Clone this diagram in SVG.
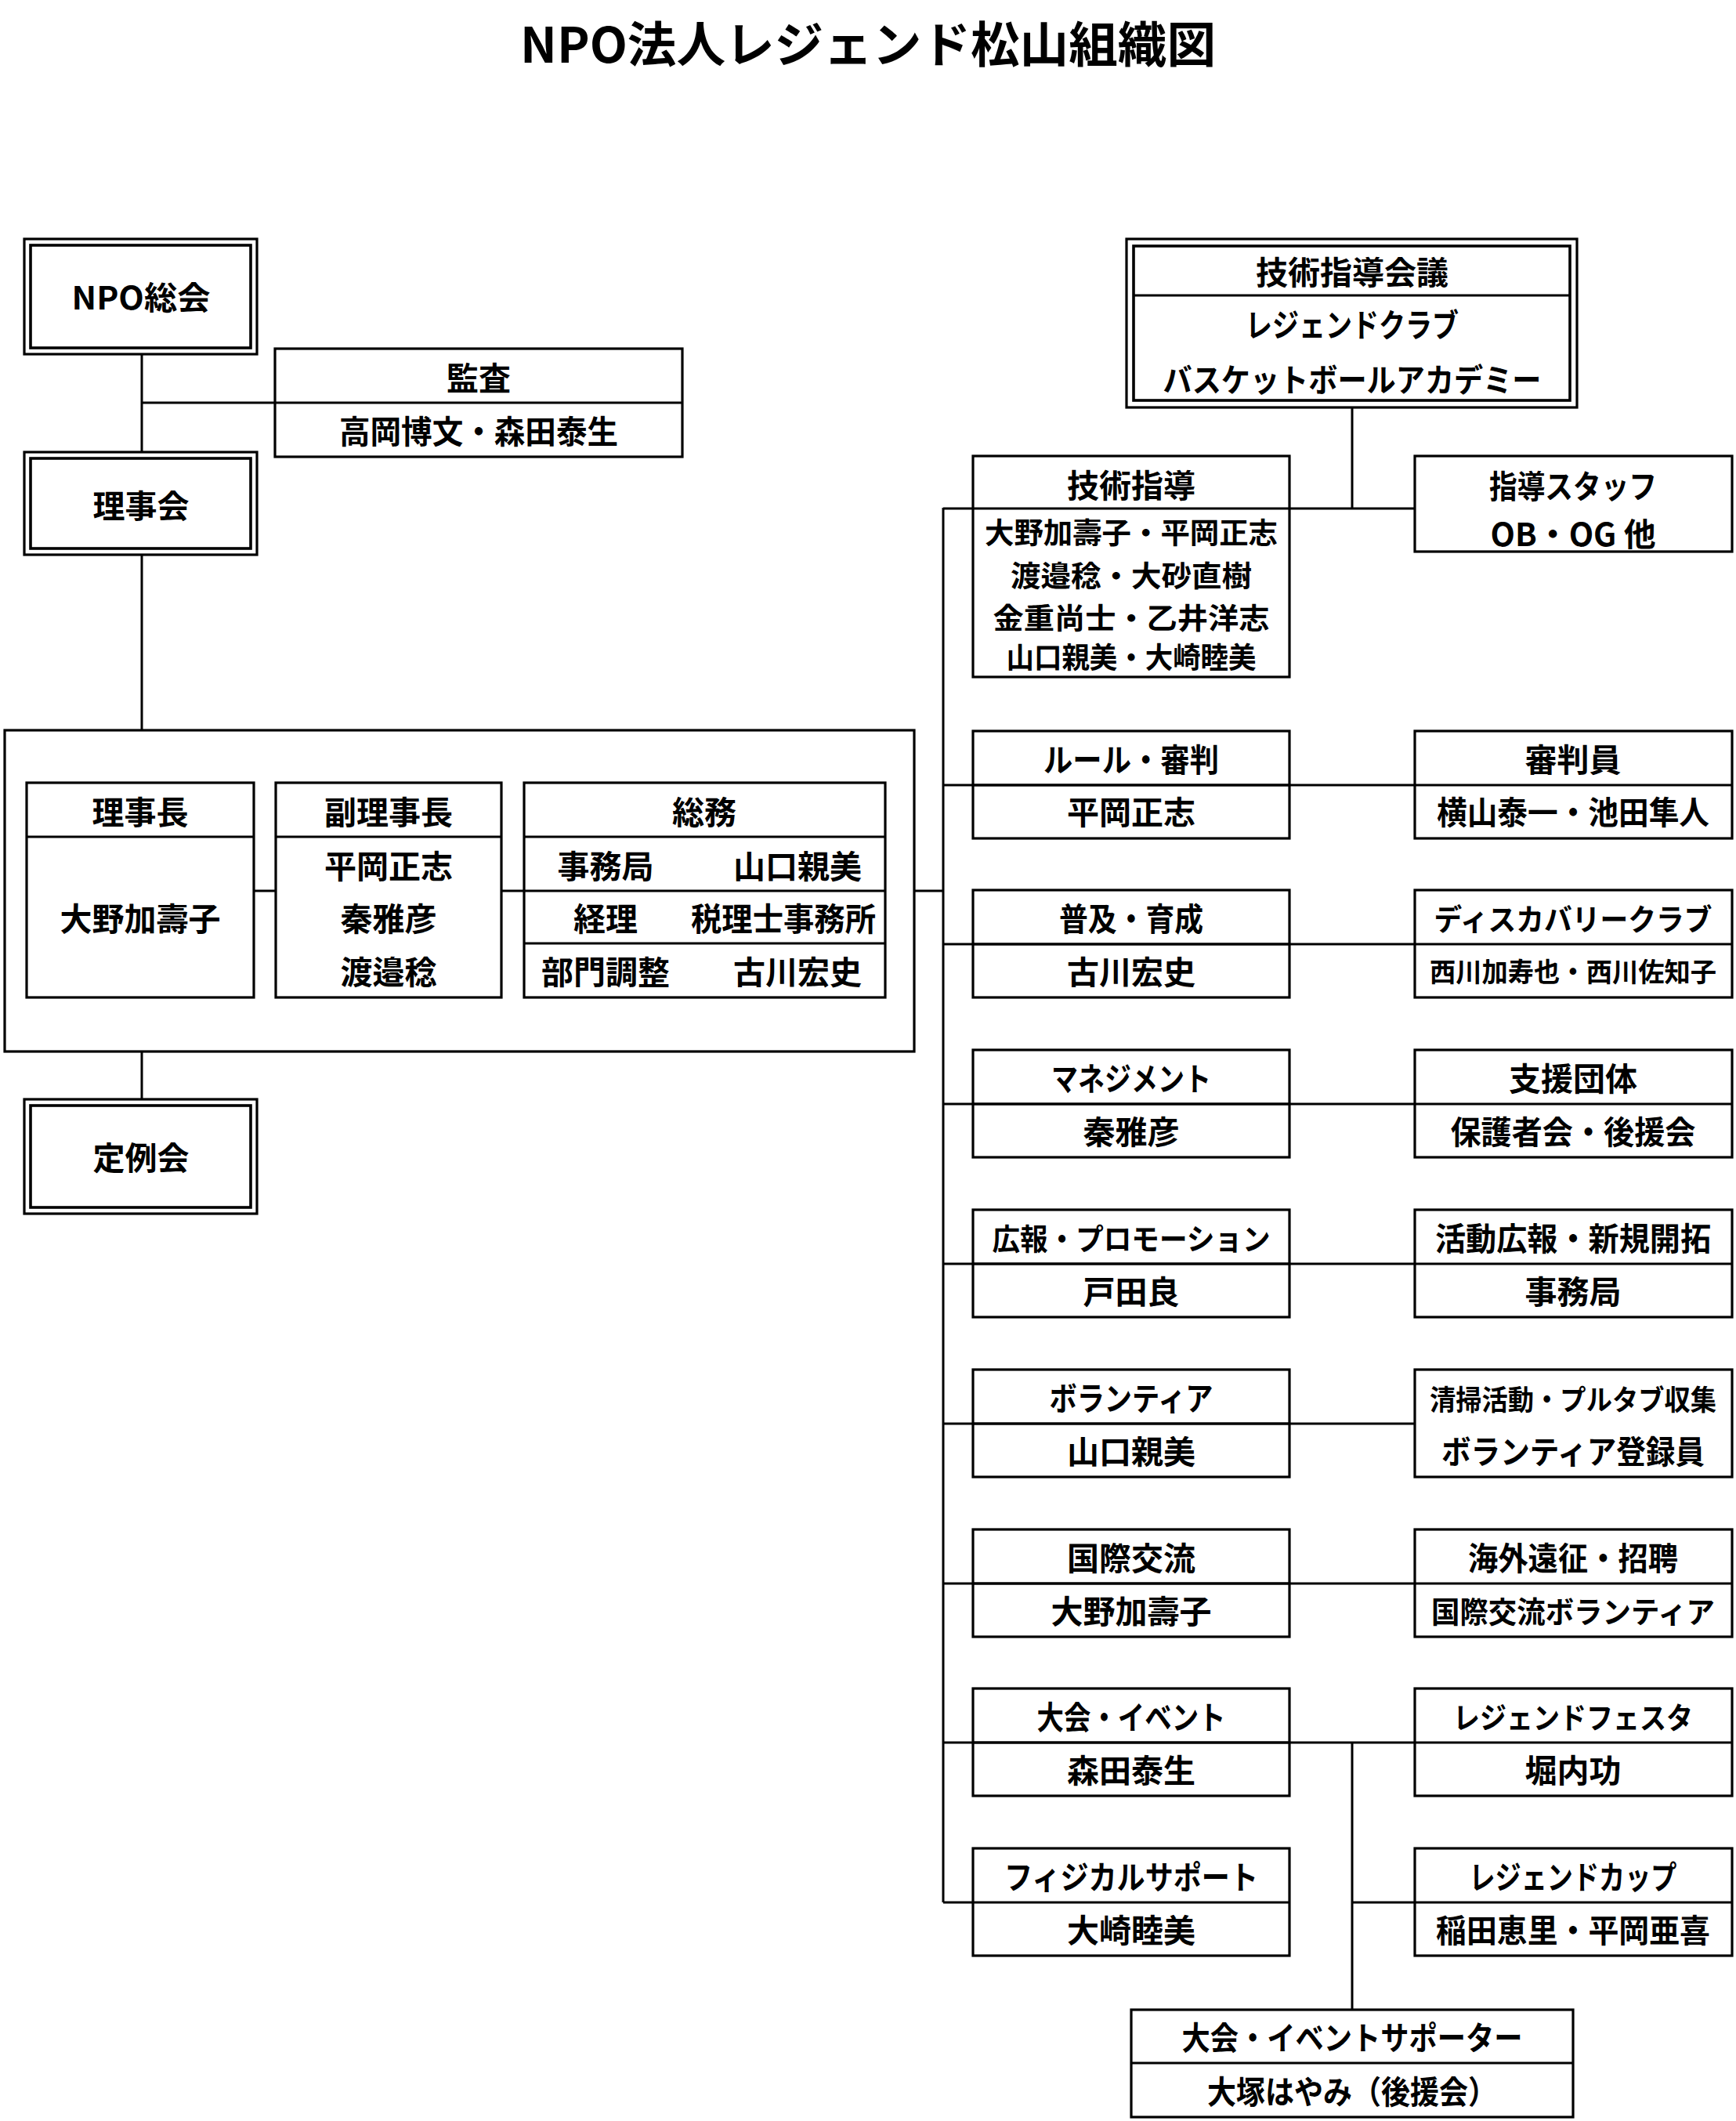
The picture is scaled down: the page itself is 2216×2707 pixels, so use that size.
<svg xmlns="http://www.w3.org/2000/svg" width="2216" height="2707" viewBox="0 0 2216 2707">
<style>
rect{fill:none;stroke:#000;stroke-width:3.2}
.in{stroke-width:3.6}
line,path{stroke:#000;stroke-width:3;fill:none}
text{font-family:"Noto Sans CJK JP","Noto Sans CJK SC",sans-serif;font-weight:bold;font-size:41px;fill:#000;text-anchor:middle;dominant-baseline:central}
.t{font-size:62px}
.s{font-size:34px}
.m{font-size:37px}
.n{font-size:38px}
.k{font-size:36px}
</style>
<rect x="0" y="0" width="2216" height="2707" fill="#fff" style="fill:#fff;stroke:none"/>
<text class="t" x="1108" y="53" textLength="888" lengthAdjust="spacingAndGlyphs">NPO法人レジェンド松山組織図</text>

<g id="connectors">
<line x1="181" y1="452" x2="181" y2="577"/>
<line x1="181" y1="514" x2="351" y2="514"/>
<line x1="181" y1="708" x2="181" y2="932"/>
<line x1="181" y1="1342" x2="181" y2="1403"/>
<line x1="324" y1="1137" x2="352" y2="1137"/>
<line x1="640" y1="1137" x2="669" y2="1137"/>
<line x1="1167" y1="1137" x2="1204" y2="1137"/>
<line x1="1726" y1="520" x2="1726" y2="649"/>
<line x1="1204" y1="649" x2="1806" y2="649"/>
<line x1="1204" y1="648" x2="1204" y2="2428"/>
<line x1="1204" y1="1002" x2="1806" y2="1002"/>
<line x1="1204" y1="1205" x2="1806" y2="1205"/>
<line x1="1204" y1="1409" x2="1806" y2="1409"/>
<line x1="1204" y1="1613" x2="1806" y2="1613"/>
<line x1="1204" y1="1817" x2="1806" y2="1817"/>
<line x1="1204" y1="2021" x2="1806" y2="2021"/>
<line x1="1204" y1="2224" x2="1806" y2="2224"/>
<line x1="1204" y1="2428" x2="1242" y2="2428"/>
<line x1="1726" y1="2224" x2="1726" y2="2565"/>
<line x1="1726" y1="2428" x2="1806" y2="2428"/>
</g>

<g id="npo-soukai">
<rect x="31" y="305" width="297" height="147"/>
<rect class="in" x="39" y="313" width="281" height="131"/>
<text x="180" y="377" textLength="177" lengthAdjust="spacingAndGlyphs">NPO総会</text>
</g>
<g id="kansa">
<rect x="351" y="445" width="520" height="138"/>
<line x1="351" y1="514" x2="871" y2="514"/>
<text x="611" y="480">監査</text>
<text x="611" y="548" textLength="356" lengthAdjust="spacingAndGlyphs">高岡博文・森田泰生</text>
</g>
<g id="rijikai">
<rect x="31" y="577" width="297" height="131"/>
<rect class="in" x="39" y="585" width="281" height="115"/>
<text x="180" y="643">理事会</text>
</g>
<g id="executive">
<rect x="6" y="932" width="1161" height="410"/>
</g>
<g id="rijicho">
<rect x="34" y="999" width="290" height="274"/>
<line x1="34" y1="1068" x2="324" y2="1068"/>
<text x="179" y="1034">理事長</text>
<text x="179" y="1170">大野加壽子</text>
</g>
<g id="fukurijicho">
<rect x="352" y="999" width="288" height="274"/>
<line x1="352" y1="1068" x2="640" y2="1068"/>
<text x="496" y="1034">副理事長</text>
<text x="496" y="1103">平岡正志</text>
<text x="496" y="1170">秦雅彦</text>
<text x="496" y="1238">渡邉稔</text>
</g>
<g id="soumu">
<rect x="669" y="999" width="461" height="274"/>
<line x1="669" y1="1068" x2="1130" y2="1068"/>
<line x1="669" y1="1137" x2="1130" y2="1137"/>
<line x1="669" y1="1204" x2="1130" y2="1204"/>
<text x="899" y="1034">総務</text>
<text x="773" y="1103">事務局</text>
<text x="1018" y="1103">山口親美</text>
<text x="773" y="1170">経理</text>
<text x="1000" y="1170" textLength="236" lengthAdjust="spacingAndGlyphs">税理士事務所</text>
<text x="773" y="1238">部門調整</text>
<text x="1018" y="1238">古川宏史</text>
</g>
<g id="teireikai">
<rect x="31" y="1403" width="297" height="146"/>
<rect class="in" x="39" y="1411" width="281" height="130"/>
<text x="180" y="1475">定例会</text>
</g>

<g id="gijutsu-kaigi">
<rect x="1438" y="305" width="575" height="215"/>
<rect class="in" x="1447" y="314" width="557" height="197"/>
<line x1="1447" y1="377" x2="2004" y2="377"/>
<text x="1726" y="345">技術指導会議</text>
<text x="1726" y="412" textLength="272" lengthAdjust="spacingAndGlyphs">レジェンドクラブ</text>
<text x="1726" y="482" textLength="483" lengthAdjust="spacingAndGlyphs">バスケットボールアカデミー</text>
</g>
<g id="gijutsu-shido">
<rect x="1242" y="582" width="404" height="282"/>
<text x="1444" y="617">技術指導</text>
<text class="m" x="1444" y="678" textLength="374" lengthAdjust="spacingAndGlyphs">大野加壽子・平岡正志</text>
<text class="m" x="1444" y="733" textLength="308" lengthAdjust="spacingAndGlyphs">渡邉稔・大砂直樹</text>
<text class="m" x="1444" y="787" textLength="353" lengthAdjust="spacingAndGlyphs">金重尚士・乙井洋志</text>
<text class="m" x="1444" y="837" textLength="319" lengthAdjust="spacingAndGlyphs">山口親美・大崎睦美</text>
</g>
<g id="shido-staff">
<rect x="1806" y="582" width="405" height="122"/>
<text x="2008" y="618" textLength="214" lengthAdjust="spacingAndGlyphs">指導スタッフ</text>
<text x="2008" y="679" textLength="211" lengthAdjust="spacingAndGlyphs">OB・OG 他</text>
</g>

<g id="rule">
<rect x="1242" y="933" width="404" height="137"/>
<line x1="1242" y1="1002" x2="1646" y2="1002"/>
<text x="1444" y="967" textLength="224" lengthAdjust="spacingAndGlyphs">ルール・審判</text>
<text x="1444" y="1034">平岡正志</text>
</g>
<g id="shinpanin">
<rect x="1806" y="933" width="405" height="137"/>
<line x1="1806" y1="1002" x2="2211" y2="1002"/>
<text x="2008" y="967">審判員</text>
<text x="2008" y="1034" textLength="348" lengthAdjust="spacingAndGlyphs">横山泰一・池田隼人</text>
</g>

<g id="fukyu">
<rect x="1242" y="1136" width="404" height="137"/>
<line x1="1242" y1="1205" x2="1646" y2="1205"/>
<text x="1444" y="1170" textLength="184" lengthAdjust="spacingAndGlyphs">普及・育成</text>
<text x="1444" y="1238">古川宏史</text>
</g>
<g id="discovery">
<rect x="1806" y="1136" width="405" height="137"/>
<line x1="1806" y1="1205" x2="2211" y2="1205"/>
<text class="n" x="2008" y="1170" textLength="355" lengthAdjust="spacingAndGlyphs">ディスカバリークラブ</text>
<text class="s" x="2008" y="1238" textLength="366" lengthAdjust="spacingAndGlyphs">西川加寿也・西川佐知子</text>
</g>

<g id="management">
<rect x="1242" y="1340" width="404" height="137"/>
<line x1="1242" y1="1409" x2="1646" y2="1409"/>
<text x="1444" y="1374" textLength="204" lengthAdjust="spacingAndGlyphs">マネジメント</text>
<text x="1444" y="1442">秦雅彦</text>
</g>
<g id="shien">
<rect x="1806" y="1340" width="405" height="137"/>
<line x1="1806" y1="1409" x2="2211" y2="1409"/>
<text x="2008" y="1374">支援団体</text>
<text x="2008" y="1442" textLength="313" lengthAdjust="spacingAndGlyphs">保護者会・後援会</text>
</g>

<g id="kouhou">
<rect x="1242" y="1544" width="404" height="137"/>
<line x1="1242" y1="1613" x2="1646" y2="1613"/>
<text class="n" x="1444" y="1578" textLength="355" lengthAdjust="spacingAndGlyphs">広報・プロモーション</text>
<text x="1444" y="1646">戸田良</text>
</g>
<g id="katsudo">
<rect x="1806" y="1544" width="405" height="137"/>
<line x1="1806" y1="1613" x2="2211" y2="1613"/>
<text x="2008" y="1578" textLength="352" lengthAdjust="spacingAndGlyphs">活動広報・新規開拓</text>
<text x="2008" y="1646">事務局</text>
</g>

<g id="volunteer">
<rect x="1242" y="1748" width="404" height="137"/>
<line x1="1242" y1="1817" x2="1646" y2="1817"/>
<text x="1444" y="1782" textLength="209" lengthAdjust="spacingAndGlyphs">ボランティア</text>
<text x="1444" y="1850">山口親美</text>
</g>
<g id="seisou">
<rect x="1806" y="1748" width="405" height="137"/>
<text class="k" x="2008" y="1784" textLength="366" lengthAdjust="spacingAndGlyphs">清掃活動・プルタブ収集</text>
<text x="2008" y="1850" textLength="336" lengthAdjust="spacingAndGlyphs">ボランティア登録員</text>
</g>

<g id="kokusai">
<rect x="1242" y="1952" width="404" height="137"/>
<line x1="1242" y1="2021" x2="1646" y2="2021"/>
<text x="1444" y="1986">国際交流</text>
<text x="1444" y="2054">大野加壽子</text>
</g>
<g id="kaigai">
<rect x="1806" y="1952" width="405" height="137"/>
<line x1="1806" y1="2021" x2="2211" y2="2021"/>
<text x="2008" y="1986" textLength="268" lengthAdjust="spacingAndGlyphs">海外遠征・招聘</text>
<text class="n" x="2008" y="2054" textLength="362" lengthAdjust="spacingAndGlyphs">国際交流ボランティア</text>
</g>

<g id="taikai">
<rect x="1242" y="2155" width="404" height="137"/>
<line x1="1242" y1="2224" x2="1646" y2="2224"/>
<text x="1444" y="2189" textLength="241" lengthAdjust="spacingAndGlyphs">大会・イベント</text>
<text x="1444" y="2257">森田泰生</text>
</g>
<g id="festa">
<rect x="1806" y="2155" width="405" height="137"/>
<line x1="1806" y1="2224" x2="2211" y2="2224"/>
<text class="n" x="2008" y="2189" textLength="306" lengthAdjust="spacingAndGlyphs">レジェンドフェスタ</text>
<text x="2008" y="2257">堀内功</text>
</g>

<g id="physical">
<rect x="1242" y="2359" width="404" height="137"/>
<line x1="1242" y1="2428" x2="1646" y2="2428"/>
<text x="1444" y="2393" textLength="324" lengthAdjust="spacingAndGlyphs">フィジカルサポート</text>
<text x="1444" y="2461">大崎睦美</text>
</g>
<g id="cup">
<rect x="1806" y="2359" width="405" height="137"/>
<line x1="1806" y1="2428" x2="2211" y2="2428"/>
<text x="2008" y="2393" textLength="265" lengthAdjust="spacingAndGlyphs">レジェンドカップ</text>
<text x="2008" y="2461" textLength="350" lengthAdjust="spacingAndGlyphs">稲田恵里・平岡亜喜</text>
</g>

<g id="supporter">
<rect x="1444" y="2565" width="564" height="137"/>
<line x1="1444" y1="2633" x2="2008" y2="2633"/>
<text x="1726" y="2598" textLength="435" lengthAdjust="spacingAndGlyphs">大会・イベントサポーター</text>
<text x="1726" y="2667" textLength="370" lengthAdjust="spacingAndGlyphs">大塚はやみ（後援会）</text>
</g>
</svg>
